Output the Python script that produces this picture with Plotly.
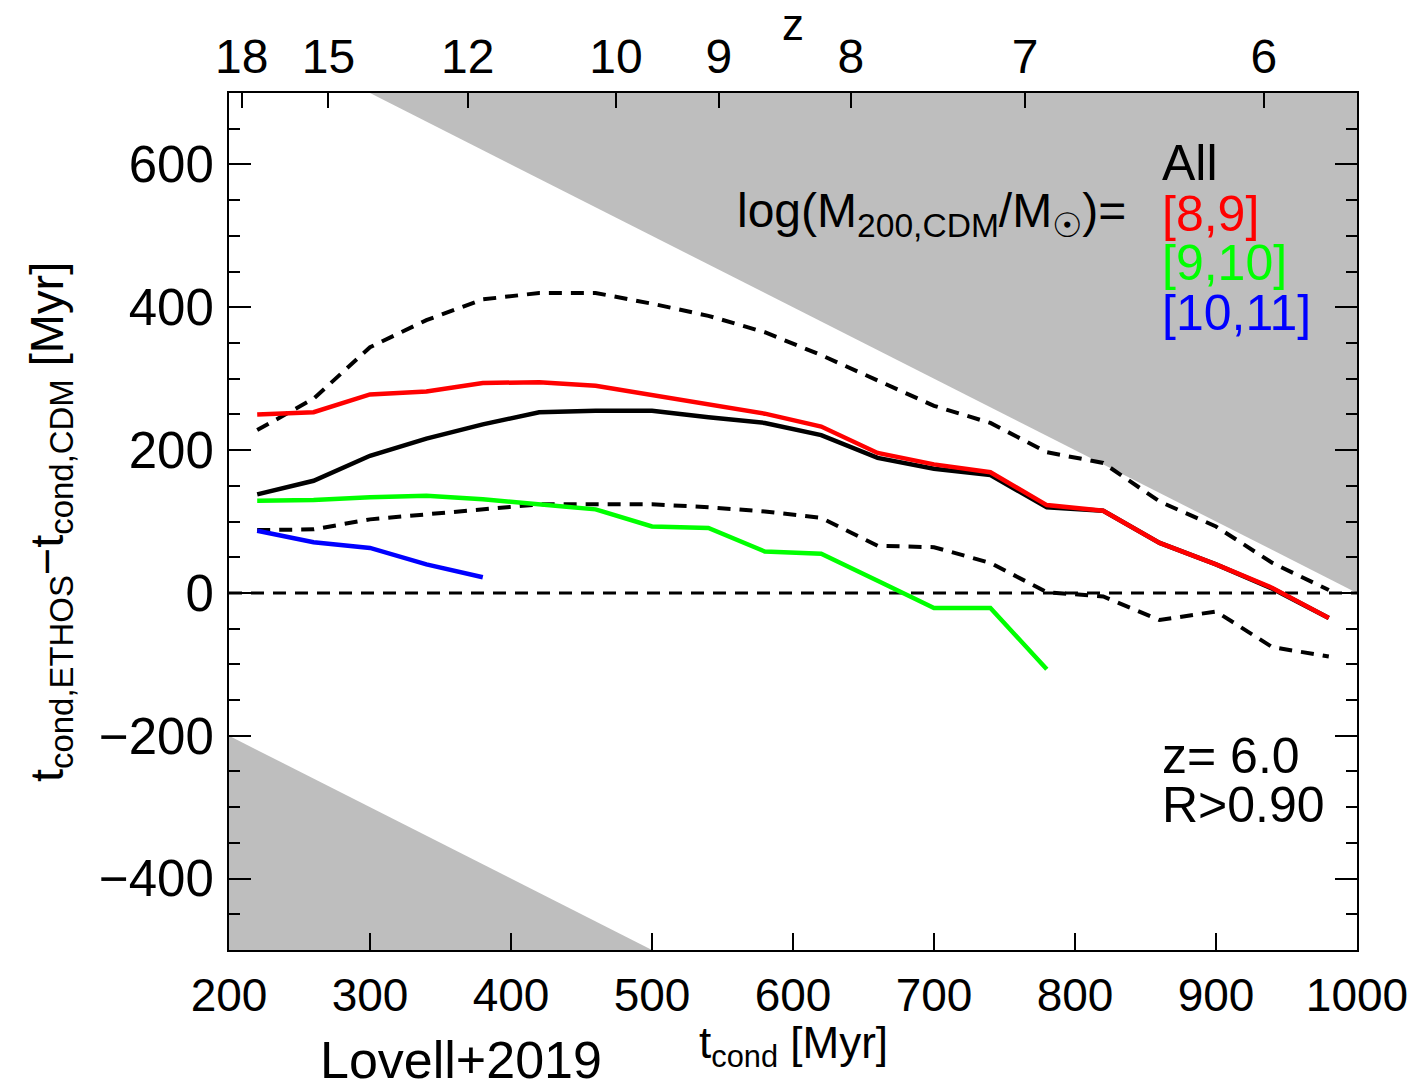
import numpy as np
import plotly.graph_objects as go

# Condensation time of CDM haloes [Myr] and the ETHOS - CDM offset [Myr]
t_cond = [220, 260, 300, 340, 380, 420, 460, 500, 540, 580,
          620, 660, 700, 740, 780, 820, 860, 900, 940, 980]

all_median = [138, 157, 192, 216, 236, 253, 255, 255, 246, 238,
              221, 189, 174, 165, 120, 115, 70, 40, 6, -35]
all_upper = [228, 272, 344, 382, 411, 420, 420, 405, 388, 365,
             333, 298, 262, 238, 197, 182, 128, 93, 42, 4]
all_lower = [88, 89, 103, 110, 118, 124, 124, 124, 120, 114,
             105, 66, 64, 42, 1, -5, -38, -26, -76, -89]
m8_9 = [250, 253, 278, 282, 294, 295, 290, 277, 265, 251,
        233, 196, 180, 169, 123, 115, 70, 40, 7, -35]
m9_10 = [129, 130, 134, 136, 131, 124, 117, 93, 91, 58,
         55, 17, -21, -21, -107]
m10_11 = [87, 71, 63, 40, 22]

# Redshift ticks for the upper axis
z_ticks = [18, 15, 12, 10, 9, 8, 7, 6]

# Allowed region limits: t_ETHOS <= 1000 Myr and t_ETHOS >= 0
t_max = 1000.0
T_RANGE = [200, 1000]
Y_RANGE = [-500, 700]


def cosmic_age_myr(z, h=0.6774, om=0.3089):
    """Age of a flat LCDM universe at redshift z, in Myr."""
    ol = 1.0 - om
    hubble_time = 9778.0 / h  # 1/H0 in Myr
    return (2.0 / (3.0 * np.sqrt(ol)) * hubble_time
            * np.arcsinh(np.sqrt(ol / om) * (1.0 + np.asarray(z, float)) ** -1.5))


GREY = "rgb(190,190,190)"
FONT = "Liberation Sans, Arial, Helvetica, sans-serif"
FS = 48
DASH = "13px,9px"
LW = 4.5

fig = go.Figure()

# Excluded regions
up_t = [t_max - Y_RANGE[1], T_RANGE[1], T_RANGE[1]]
up_y = [Y_RANGE[1], t_max - T_RANGE[1], Y_RANGE[1]]
fig.add_trace(go.Scatter(x=up_t, y=up_y, fill="toself", fillcolor=GREY,
                         mode="lines", line=dict(width=0), hoverinfo="skip"))
lo_t = [T_RANGE[0], -Y_RANGE[0], T_RANGE[0]]
lo_y = [-T_RANGE[0], Y_RANGE[0], Y_RANGE[0]]
fig.add_trace(go.Scatter(x=lo_t, y=lo_y, fill="toself", fillcolor=GREY,
                         mode="lines", line=dict(width=0), hoverinfo="skip"))

# Zero offset reference line
fig.add_trace(go.Scatter(x=T_RANGE, y=[0, 0], mode="lines",
                         line=dict(color="black", width=3, dash=DASH)))

# Scatter of the full sample
fig.add_trace(go.Scatter(x=t_cond, y=all_upper, mode="lines",
                         line=dict(color="black", width=4, dash=DASH)))
fig.add_trace(go.Scatter(x=t_cond, y=all_lower, mode="lines",
                         line=dict(color="black", width=4, dash=DASH)))

# Medians
fig.add_trace(go.Scatter(x=t_cond, y=all_median, mode="lines",
                         line=dict(color="black", width=LW)))
fig.add_trace(go.Scatter(x=t_cond, y=m8_9, mode="lines",
                         line=dict(color="#ff0000", width=LW)))
fig.add_trace(go.Scatter(x=t_cond[:len(m9_10)], y=m9_10, mode="lines",
                         line=dict(color="#00ff00", width=LW)))
fig.add_trace(go.Scatter(x=t_cond[:len(m10_11)], y=m10_11, mode="lines",
                         line=dict(color="#0000ff", width=LW)))

# Invisible trace that carries the redshift axis
fig.add_trace(go.Scatter(x=T_RANGE, y=[0, 0], xaxis="x2", yaxis="y",
                         mode="markers", marker=dict(size=1, opacity=0),
                         hoverinfo="skip"))

z_pos = [float(v) for v in cosmic_age_myr(z_ticks)]

fig.update_layout(
    width=1419, height=1088,
    margin=dict(l=229, r=62, t=93, b=138),
    paper_bgcolor="white", plot_bgcolor="white",
    showlegend=False,
    font=dict(family=FONT, size=FS, color="black"),
    xaxis=dict(range=T_RANGE, dtick=100, tick0=200, ticks="inside", ticklen=17,
               tickwidth=2, tickcolor="black", showline=True, linewidth=2,
               linecolor="black", mirror=True, showgrid=False, zeroline=False,
               tickfont=dict(size=46), ticklabelstandoff=4),
    xaxis2=dict(range=T_RANGE, overlaying="x", side="top", anchor="y",
                tickmode="array", tickvals=z_pos,
                ticktext=[str(z) for z in z_ticks],
                ticks="inside", ticklen=15, tickwidth=2, tickcolor="black",
                showline=False, showgrid=False, zeroline=False,
                tickfont=dict(size=FS), ticklabelstandoff=9),
    yaxis=dict(range=Y_RANGE, dtick=200, tick0=0, ticks="inside", ticklen=22,
               tickwidth=2, tickcolor="black", showline=True, linewidth=2,
               linecolor="black", mirror="ticks", showgrid=False, zeroline=False,
               tickfont=dict(size=51), ticklabelstandoff=3,
               minor=dict(dtick=50, ticks="inside", ticklen=11, tickwidth=2,
                          tickcolor="black", showgrid=False)),
)

ann = []


def label(text, x, y, color="black", xanchor="left", size=FS, **kw):
    ann.append(dict(text=text, x=x, y=y, xref="paper", yref="paper",
                    xanchor=xanchor, yanchor="middle", showarrow=False,
                    font=dict(family=FONT, size=size, color=color), **kw))


L, R, T, B = 229, 1357, 93, 950


def px(xp):
    return (xp - L) / (R - L)


def py(yp):
    return (B - yp) / (B - T)


label("All", px(1160), py(163), size=50)
label("log(M<sub>200,CDM</sub>/M<sub>☉</sub>)=", px(1128), py(214), xanchor="right")
label("[8,9]", px(1160), py(214), color="#ff0000", size=50)
label("[9,10]", px(1160), py(263), color="#00ff00", size=50)
label("[10,11]", px(1160), py(313), color="#0000ff", size=50)
label("z= 6.0", px(1160), py(756), size=50)
label("R>0.90", px(1160), py(805), size=50)
label("z", px(793), py(25), xanchor="center", size=44)
label("t<sub>cond</sub> [Myr]", px(793), py(1046), xanchor="center", size=44)
label("Lovell+2019", px(461), py(1060), xanchor="center", size=52)
label("t<sub>cond,ETHOS</sub>−t<sub>cond,CDM</sub> [Myr]", px(50), py(522),
      xanchor="center", size=47, textangle=-90)

fig.update_layout(annotations=ann)

fig.write_html("out.html")
